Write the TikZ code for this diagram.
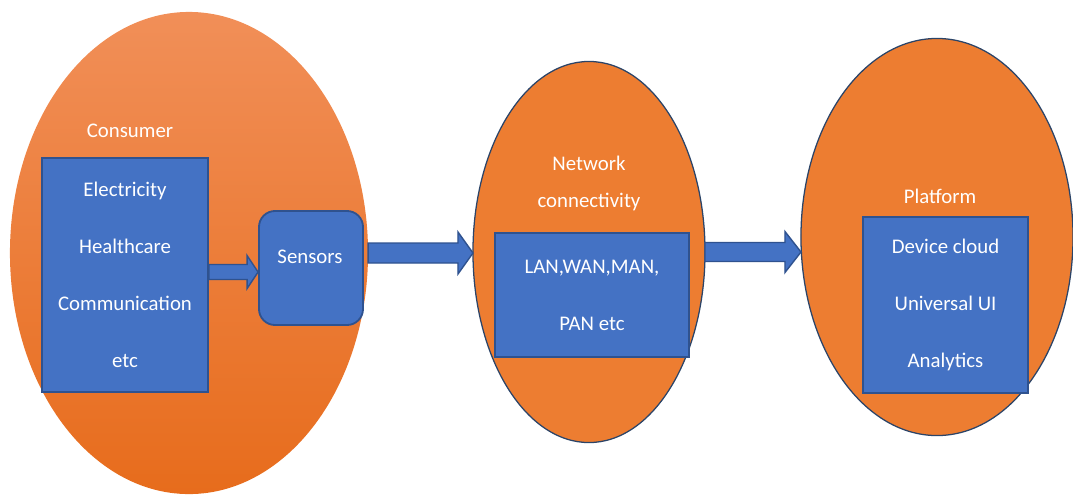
\documentclass[tikz,border=0pt]{standalone}
\usepackage{fontspec}
\setmainfont{Carlito}
\usetikzlibrary{positioning,shapes,calc}

\definecolor{boxblue}{HTML}{4472C4}
\definecolor{boxline}{HTML}{2F528F}
\definecolor{ringline}{HTML}{2B4468}
\definecolor{orng}{HTML}{ED7D31}

% block arrow between two points at the same height
% #1 tail, #2 tip, #3 half shaft, #4 half head, #5 head length
\newcommand{\fatarrow}[5]{%
\draw[fatarr] ($(#1)+(0,-#3)$) -- ($(#2)+(-#5,-#3)$) -- ($(#2)+(-#5,-#4)$) -- (#2)
  -- ($(#2)+(-#5,#4)$) -- ($(#2)+(-#5,#3)$) -- ($(#1)+(0,#3)$) -- cycle;}

\begin{document}
\begin{tikzpicture}[x=0.025cm,y=-0.025cm,
  font=\fontsize{14.8}{40.5}\selectfont,
  ring/.style={ellipse, draw=ringline, line width=0.9pt, fill=orng, inner sep=0pt, outer sep=0pt},
  box/.style={rectangle, draw=boxline, line width=1.3pt, fill=boxblue, text=white, align=center, inner sep=0pt},
  lbl/.style={text=white, inner sep=0pt, align=center},
  fatarr/.style={draw=boxline, line width=1pt, fill=boxblue, line join=miter}]
\useasboundingbox (0,0) rectangle (1073,495);

% the three areas
\node[ellipse, inner sep=0pt, outer sep=0pt, top color={rgb,255:red,241;green,143;blue,88},
  bottom color={rgb,255:red,231;green,108;blue,28}, minimum width=8.95cm, minimum height=12.05cm] (cons) at (189,253) {};
\node[ring, minimum width=5.8cm, minimum height=9.525cm] (net) at (589,252) {};
\node[ring, minimum width=6.8cm, minimum height=9.925cm] (plat) at (937,237) {};

\node[lbl] (consL) at (130,131) {Consumer};
\node[lbl, font=\fontsize{14.8}{26.3}\selectfont] (netL) at (589,183) {Network\\connectivity};
\node[lbl] (platL) at (940,196) {Platform};

% boxes
\node[box, minimum width=4.15cm, minimum height=5.85cm] (uses) at (125,275)
  {Electricity\\Healthcare\\Communication\\etc};
\node[box, rounded corners=0.4cm, minimum width=2.6cm, minimum height=2.85cm] (sens) at (311,268) {};
\node[lbl] (sensL) at (310,257) {Sensors};
\node[box, minimum width=4.85cm, minimum height=3.1cm] (lan) at (592,295)
  {LAN,WAN,MAN,\\PAN etc};
\node[box, minimum width=4.125cm, minimum height=4.4cm] (svc) at (945.5,305)
  {Device cloud\\Universal UI\\Analytics};

% arrows
\coordinate (a1) at (uses.east |- 0,272);
\coordinate (b1) at (sens.west |- 0,272);
\coordinate (b2) at (net.west |- cons.east);
\coordinate (b3) at (plat.west |- net.east);
\fatarrow{a1}{b1}{7.5}{16.5}{11}
\fatarrow{cons.east}{b2}{10}{21}{15}
\fatarrow{net.east}{b3}{9.5}{20.5}{16}

\end{tikzpicture}
\end{document}
